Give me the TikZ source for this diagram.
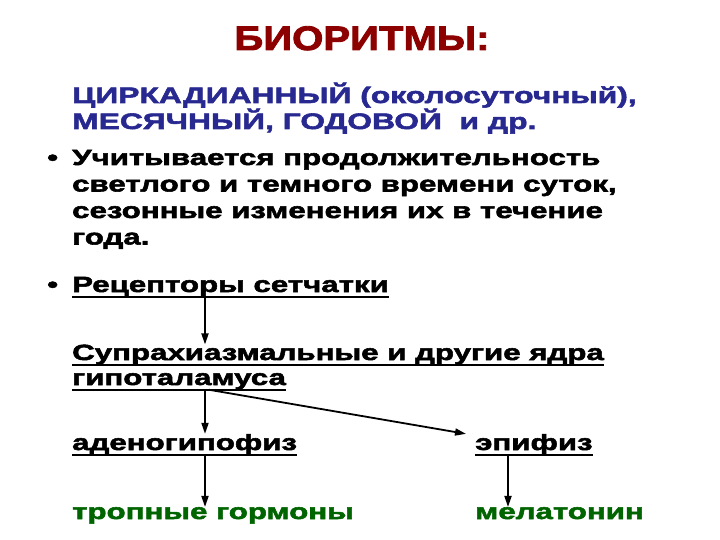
\documentclass[tikz,border=0pt]{standalone}
\usepackage{fontspec}
\setmainfont{Liberation Sans}[BoldFeatures={FakeStretch=1.42, FakeBold=2.5}]
\newfontfamily\titlefont{Liberation Sans}[BoldFeatures={FakeStretch=1.18, FakeBold=2.5}]
\usetikzlibrary{arrows.meta}

\definecolor{titlered}{RGB}{140,0,0}
\definecolor{navyblue}{RGB}{40,40,145}
\definecolor{darkgreen}{RGB}{0,100,0}

\tikzset{
    txt/.style={anchor=base west, inner sep=0pt, font=\bfseries\fontsize{22}{26}\selectfont},
    blue/.style={txt, text=navyblue, font=\bfseries\fontsize{22.4}{26}\selectfont},
    res/.style={txt, text=darkgreen},
    uline/.style={line width=1.8pt},
    arr/.style={-{Triangle[length=11pt,width=7pt]}, line width=1.8pt}
}

\begin{document}
\begin{tikzpicture}[x=1pt, y=-1pt]
    \useasboundingbox (0,0) rectangle (720,540);

    \node[anchor=base, inner sep=0pt, text=titlered, font=\titlefont\bfseries\fontsize{34}{40}\selectfont] (title) at (362,50) {БИОРИТМЫ:};

    \node[blue] (c1) at (72,103) {ЦИРКАДИАННЫЙ (околосуточный),};
    \node[blue] (c2) at (72,129) {МЕСЯЧНЫЙ, ГОДОВОЙ\ \ и др.};

    \node[txt] (b1) at (47,165) {•};
    \node[txt] (u1) at (72,165) {Учитывается продолжительность};
    \node[txt] (u2) at (72,191.5) {светлого и темного времени суток,};
    \node[txt] (u3) at (72,218) {сезонные изменения их в течение};
    \node[txt] (u4) at (72,244.5) {года.};

    \node[txt] (b2) at (47,292) {•};
    \node[txt] (rec) at (72,292) {Рецепторы сетчатки};

    \node[txt] (sup1) at (72,360) {Супрахиазмальные и другие ядра};
    \node[txt] (sup2) at (72,385) {гипоталамуса};

    \node[txt] (aden) at (72,450) {аденогипофиз};
    \node[txt] (epi) at (475,450) {эпифиз};

    \node[res] (trop) at (72,519) {тропные гормоны};
    \node[res] (mel) at (475,519) {мелатонин};

    % подчеркивания
    \foreach \n in {rec,sup1,sup2,aden,epi}
        \draw[uline] ([yshift=-5pt]\n.base west) -- ([yshift=-5pt]\n.base east);

    % стрелки
    \draw[arr] ([xshift=133pt]rec.south west) -- ([xshift=133pt]sup1.north west);
    \draw[arr] ([xshift=133pt]sup2.south west) -- ([xshift=133pt]aden.north west);
    \draw[arr] ([xshift=137pt]sup2.south west) -- ([xshift=-9pt]epi.north west);
    \draw[arr] ([xshift=133pt]aden.south west) -- ([xshift=133pt]trop.north west);
    \draw[arr] ([xshift=33pt]epi.south west) -- ([xshift=33pt]mel.north west);
\end{tikzpicture}
\end{document}
